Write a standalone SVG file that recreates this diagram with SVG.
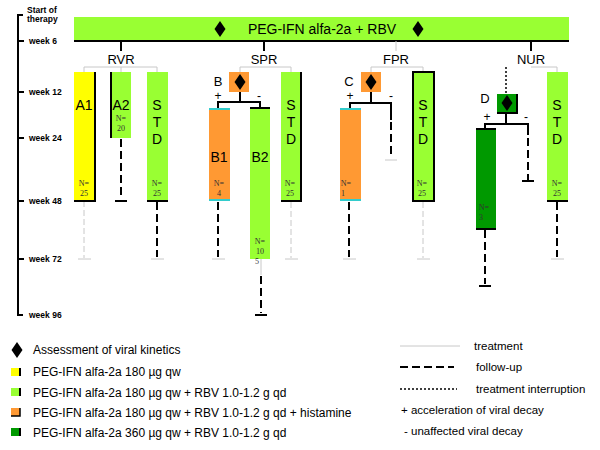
<svg xmlns="http://www.w3.org/2000/svg" width="600" height="450" viewBox="0 0 600 450">
<defs>
<style>
.t{font-family:"Liberation Sans",Arial,sans-serif;fill:#000}
.tl{font-family:"Liberation Sans",Arial,sans-serif;font-size:8.5px;font-weight:bold}
.lb{font-size:14px;text-anchor:middle}
.n{font-family:"Liberation Serif","Times New Roman",serif;font-size:8px;fill:#333;text-anchor:middle}
.lg{font-size:12px}
.lr{font-size:11.5px}
.gr{stroke:#c8c8c8;stroke-width:1;fill:none}
.grd{stroke:#c8c8c8;stroke-width:1;fill:none;stroke-dasharray:6 3}
.bk{stroke:#000;stroke-width:2;fill:none}
.bkd{stroke:#000;stroke-width:2;fill:none;stroke-dasharray:8 4}
.dot{stroke:#000;stroke-width:1.5;fill:none;stroke-dasharray:2 2}
.lgreen{fill:#99ff33}
.yel{fill:#ffff00}
.ora{fill:#ff9933}
.dgr{fill:#009900}
.teal{stroke:#33cccc;stroke-width:2}
</style>
<path id="dia" d="M0,-8 L5.5,0 L0,8 L-5.5,0 Z" fill="#000"/>
</defs>

<g id="timeline">
<path class="bk" d="M23,15 H18 V315 H23"/>
<path class="bk" d="M18,41 H24 M18,92 H24 M18,138 H24 M18,201 H24 M18,259 H24"/>
<text class="tl" x="27" y="13">Start of</text>
<text class="tl" x="27" y="22">therapy</text>
<text class="tl" x="29" y="44">week 6</text>
<text class="tl" x="29" y="95">week 12</text>
<text class="tl" x="29" y="141">week 24</text>
<text class="tl" x="29" y="204">week 48</text>
<text class="tl" x="29" y="262">week 72</text>
<text class="tl" x="29" y="318">week 96</text>
</g>

<g id="topbar">
<rect class="lgreen" x="74" y="17" width="495" height="24"/>
<line class="bk" x1="74" y1="41" x2="569" y2="41"/>
<use href="#dia" x="220" y="29"/>
<use href="#dia" x="418" y="29"/>
<text class="t" x="322" y="34" font-size="14" text-anchor="middle">PEG-IFN alfa-2a + RBV</text>
</g>

<g id="connectors">
<line class="bk" x1="121" y1="41" x2="121" y2="51"/>
<line class="bk" x1="264" y1="41" x2="264" y2="51"/>
<line class="gr" x1="396" y1="41" x2="396" y2="51"/>
<line class="bk" x1="531" y1="41" x2="531" y2="51"/>
<path class="gr" d="M84,72 V67 H157 V72 M121,67 V72"/>
<path class="gr" d="M240,72 V67 H291 V72"/>
<path class="gr" d="M371,72 V67 H423 V72"/>
<path class="gr" d="M531,67 H557 V72"/>
<line class="dot" x1="506" y1="67" x2="506" y2="94"/>
<path class="bk" d="M240,92 V102 M218,108 V102 H260 V108"/>
<path class="bk" d="M371,92 V103 M350,108 V103 H391 V120"/>
<line class="bkd" x1="391" y1="122" x2="391" y2="158"/>
<line class="gr" x1="385" y1="160" x2="397" y2="160"/>
<path class="bk" d="M506,113 V124 M485,129 V124 H528 V135"/>
<line class="bkd" x1="528" y1="138" x2="528" y2="180"/>
<line class="bk" x1="522" y1="181" x2="534" y2="181"/>
<line class="grd" x1="84" y1="201" x2="84" y2="258"/>
<line class="gr" x1="78" y1="259" x2="91" y2="259"/>
<line class="bkd" x1="121" y1="139" x2="121" y2="199"/>
<line class="bk" x1="115" y1="201" x2="127" y2="201"/>
<line class="bkd" x1="157" y1="202" x2="157" y2="257"/>
<line class="gr" x1="151" y1="259" x2="164" y2="259"/>
<line class="bkd" x1="218" y1="202" x2="218" y2="257"/>
<line class="gr" x1="212" y1="259" x2="225" y2="259"/>
<line class="gr" x1="261" y1="259" x2="261" y2="275"/>
<line class="bkd" x1="261" y1="276" x2="261" y2="313"/>
<line class="bk" x1="255" y1="315" x2="267" y2="315"/>
<line class="grd" x1="291" y1="202" x2="291" y2="258"/>
<line class="gr" x1="285" y1="259" x2="298" y2="259"/>
<line class="bkd" x1="349" y1="202" x2="349" y2="257"/>
<line class="gr" x1="343" y1="259" x2="356" y2="259"/>
<line class="grd" x1="423" y1="202" x2="423" y2="258"/>
<line class="gr" x1="417" y1="259" x2="430" y2="259"/>
<line class="bkd" x1="485" y1="230" x2="485" y2="284"/>
<line class="bk" x1="479" y1="286" x2="491" y2="286"/>
<line class="bkd" x1="557" y1="202" x2="557" y2="257"/>
<line class="gr" x1="551" y1="259" x2="564" y2="259"/>
</g>

<g class="t" font-size="13" text-anchor="middle">
<text x="121" y="64">RVR</text>
<text x="264" y="64">SPR</text>
<text x="396" y="64">FPR</text>
<text x="531" y="64">NUR</text>
</g>

<g id="A1">
<rect class="yel" x="74" y="72" width="21" height="129"/>
<path class="bk" d="M95,72 V201 H74"/>
<text class="t lb" x="84" y="110">A1</text>
<text class="n" x="84" y="186">N=</text><text class="n" x="84" y="196">25</text>
</g>
<g id="A2">
<rect class="lgreen" x="111" y="72" width="20" height="66"/>
<line class="bk" x1="111" y1="72" x2="111" y2="138"/>
<text class="t lb" x="121" y="110">A2</text>
<text class="n" x="121" y="121">N=</text><text class="n" x="121" y="131">20</text>
</g>
<g id="STD-RVR">
<rect class="lgreen" x="147" y="72" width="21" height="129"/>
<line class="bk" x1="147" y1="201" x2="168" y2="201"/>
<text class="t lb" x="157" y="110">S</text><text class="t lb" x="157" y="127">T</text><text class="t lb" x="157" y="144">D</text>
<text class="n" x="157" y="186">N=</text><text class="n" x="157" y="196">25</text>
</g>

<g id="B">
<rect class="ora" x="229" y="72" width="20" height="20"/>
<use href="#dia" x="240" y="82"/>
<text class="t" x="218" y="86" font-size="13" text-anchor="middle">B</text>
<text class="t" x="218" y="100" font-size="12" text-anchor="middle">+</text>
<text class="t" x="259" y="100" font-size="12" text-anchor="middle">-</text>
</g>
<g id="B1">
<rect class="ora" x="209" y="108" width="21" height="93"/>
<line class="teal" x1="209" y1="109" x2="230" y2="109"/>
<line class="teal" x1="209" y1="200" x2="230" y2="200"/>
<text class="t lb" x="219" y="162">B1</text>
<text class="n" x="219" y="186">N=</text><text class="n" x="219" y="196">4</text>
</g>
<g id="B2">
<rect class="lgreen" x="250" y="108" width="20" height="151"/>
<line class="bk" x1="250" y1="108" x2="270" y2="108"/>
<text class="t lb" x="260" y="162">B2</text>
<text class="n" x="260" y="244">N=</text><text class="n" x="260" y="254">10</text><text class="n" x="257" y="264">5</text>
</g>
<g id="STD-SPR">
<rect class="lgreen" x="281" y="72" width="20" height="129"/>
<path class="bk" d="M301,72 V201 H281"/>
<text class="t lb" x="291" y="110">S</text><text class="t lb" x="291" y="127">T</text><text class="t lb" x="291" y="144">D</text>
<text class="n" x="290" y="186">N=</text><text class="n" x="290" y="196">25</text>
</g>

<g id="C">
<rect class="ora" x="361" y="72" width="20" height="20"/>
<use href="#dia" x="371" y="82"/>
<text class="t" x="349" y="86" font-size="13" text-anchor="middle">C</text>
<text class="t" x="350" y="100" font-size="12" text-anchor="middle">+</text>
<text class="t" x="391" y="100" font-size="12" text-anchor="middle">-</text>
</g>
<g id="C1">
<rect class="ora" x="340" y="108" width="21" height="93"/>
<line class="teal" x1="340" y1="109" x2="361" y2="109"/>
<line class="teal" x1="340" y1="200" x2="361" y2="200"/>
<text class="n" x="346" y="186">N=</text><text class="n" x="343" y="196">1</text>
</g>
<g id="STD-FPR">
<rect class="lgreen" x="413" y="72" width="21" height="129" stroke="#000" stroke-width="2"/>
<text class="t lb" x="423" y="110">S</text><text class="t lb" x="423" y="127">T</text><text class="t lb" x="423" y="144">D</text>
<text class="n" x="422" y="186">N=</text><text class="n" x="422" y="196">25</text>
</g>

<g id="D">
<rect class="dgr" x="497" y="94" width="20" height="19"/>
<path class="bk" d="M517,94 V113 H497"/>
<use href="#dia" x="507" y="103"/>
<text class="t" x="485" y="103" font-size="13" text-anchor="middle">D</text>
<text class="t" x="487" y="121" font-size="12" text-anchor="middle">+</text>
<text class="t" x="526" y="121" font-size="12" text-anchor="middle">-</text>
</g>
<g id="D1">
<rect class="dgr" x="476" y="129" width="20" height="100"/>
<path class="bk" d="M476,129 H496 M476,229 H496"/>
<text class="n" x="484" y="210">N=</text><text class="n" x="481" y="220">3</text>
</g>
<g id="STD-NUR">
<rect class="lgreen" x="547" y="72" width="21" height="129"/>
<line class="bk" x1="547" y1="201" x2="568" y2="201"/>
<text class="t lb" x="557" y="110">S</text><text class="t lb" x="557" y="127">T</text><text class="t lb" x="557" y="144">D</text>
<text class="n" x="557" y="186">N=</text><text class="n" x="557" y="196">25</text>
</g>

<g id="legend">
<use href="#dia" x="17" y="350"/>
<text class="t lg" x="33" y="354">Assessment of viral kinetics</text>
<rect class="yel" x="11" y="368" width="9" height="8"/><line x1="20" y1="368" x2="20" y2="376" stroke="#000" stroke-width="2"/>
<text class="t lg" x="33" y="376">PEG-IFN alfa-2a 180 µg qw</text>
<rect class="lgreen" x="11" y="388" width="9" height="8"/><line x1="20" y1="388" x2="20" y2="396" stroke="#000" stroke-width="2"/>
<text class="t lg" x="33" y="397">PEG-IFN alfa-2a 180 µg qw + RBV 1.0-1.2 g qd</text>
<rect class="ora" x="11" y="408" width="9" height="8"/><path d="M20,408 V416 H11" stroke="#000" stroke-width="1.5" fill="none"/>
<text class="t lg" x="33" y="417">PEG-IFN alfa-2a 180 µg qw + RBV 1.0-1.2 g qd + histamine</text>
<rect class="dgr" x="11" y="428" width="9" height="8"/><line x1="20" y1="428" x2="20" y2="436" stroke="#000" stroke-width="2"/>
<text class="t lg" x="33" y="437">PEG-IFN alfa-2a 360 µg qw + RBV 1.0-1.2 g qd</text>

<line class="gr" x1="400" y1="346" x2="460" y2="346"/>
<text class="t lr" x="474" y="350">treatment</text>
<line class="bkd" x1="400" y1="367" x2="454" y2="367" stroke-dasharray="11 4"/>
<text class="t lr" x="476" y="371">follow-up</text>
<line class="dot" x1="400" y1="389" x2="457" y2="389" stroke-width="1"/>
<text class="t lr" x="476" y="393">treatment interruption</text>
<text class="t lr" x="401" y="414">+ acceleration of viral decay</text>
<text class="t lr" x="404" y="435">- unaffected viral decay</text>
</g>
</svg>
